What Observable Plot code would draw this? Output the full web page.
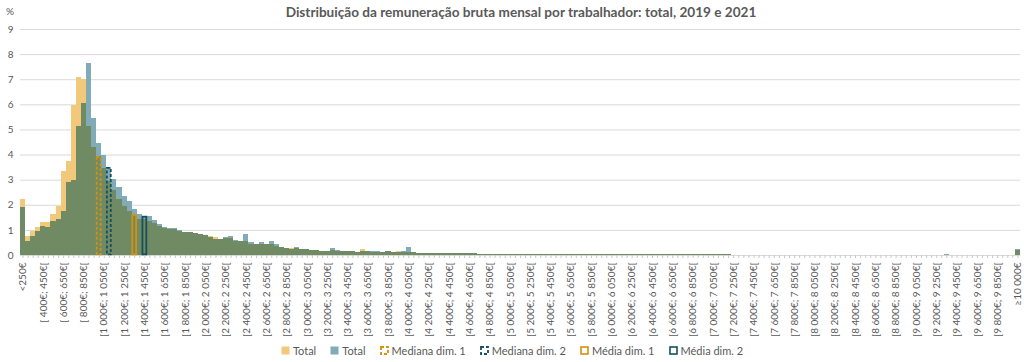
<!DOCTYPE html>
<html><head><meta charset="utf-8">
<script src="https://cdn.jsdelivr.net/npm/d3@7"></script>
<script src="https://cdn.jsdelivr.net/npm/@observablehq/plot@0.6"></script>
<style>
body{margin:0;background:#fff;font-family:Lato,"Open Sans",sans-serif;}
#wrap{position:relative;width:1024px;height:362px;overflow:hidden}
#title{height:24px;line-height:24px;text-align:center;font-weight:bold;font-size:13.6px;color:#595959;padding-left:18px}
#pct{position:absolute;left:6px;top:5px;font-size:10px;color:#595959}
#chart svg{display:block}
#legend{display:flex;justify-content:center;gap:14px;font-size:11px;color:#595959;height:24px;align-items:center}
.item{display:flex;align-items:center;gap:3px}
</style></head>
<body>
<div id="wrap">
  <div id="title">Distribuição da remuneração bruta mensal por trabalhador: total, 2019 e 2021</div>
  <div id="pct">%</div>
  <div id="chart"></div>
  <div id="legend"></div>
</div>
<script>
// Bin edges (€): first bin "<250€", then 50€ bins up to 10 000€, last bin "≥10 000€"
const binStart = 250, binStep = 50, binEnd = 10000;

// % of workers per bin, 2019 (Total, dim. 1)
const total2019 = [
2.24,0.74,0.94,1.13,1.31,1.31,1.63,1.96,3.34,3.75,
5.97,7.09,6.99,5.14,4.32,3.93,3.47,2.95,2.57,2.25,
1.95,1.77,1.61,1.44,1.42,1.35,1.26,1.15,1.06,1.02,
1.02,0.95,0.91,0.90,0.87,0.83,0.79,0.76,0.71,0.65,
0.68,0.68,0.57,0.56,0.55,0.44,0.43,0.44,0.43,0.43,
0.37,0.32,0.28,0.29,0.27,0.25,0.24,0.21,0.19,0.17,
0.17,0.19,0.17,0.16,0.15,0.14,0.13,0.25,0.16,0.13,
0.13,0.11,0.17,0.11,0.17,0.11,0.11,0.10,0.09,0.09,
0.09,0.08,0.08,0.08,0.07,0.07,0.07,0.07,0.07,0.07,
0.05,0.05,0.05,0.05,0.05,0.05,0.05,0.05,0.05,0.03,
0.03,0.03,0.03,0.03,0.03,0.03,0.03,0.03,0.03,0.03,
0.03,0.03,0.03,0.03,0.03,0.03,0.03,0.03,0.03,0.03,
0.03,0.02,0.02,0.02,0.02,0.02,0.02,0.02,0.02,0.02,
0.02,0.02,0.02,0.02,0.02,0.02,0.02,0.02,0.02,0.02,
0.01,0.01,0.01,0.01,0.01,0.01,0.01,0.01,0.01,0.01,
0.01,0.01,0.01,0.01,0.01,0.01,0.01,0.01,0.01,0.01,
0.01,0.01,0.01,0.01,0.01,0.01,0.01,0.01,0.01,0.01,
0.01,0.01,0.01,0.01,0.01,0.01,0.01,0.01,0.01,0.01,
0,0,0,0,0,0,0,0,0,0,
0,0,0,0,0,0,0.20
];

// % of workers per bin, 2021 (Total, dim. 2)
const total2021 = [
1.92,0.57,0.74,0.94,1.15,1.13,1.34,1.42,1.77,2.91,
2.99,5.14,6.04,7.63,5.44,4.46,4.00,3.49,3.01,2.70,
2.34,2.14,1.85,1.65,1.55,1.55,1.38,1.22,1.12,1.06,
1.09,0.99,0.93,0.92,0.89,0.85,0.78,0.72,0.65,0.65,
0.72,0.77,0.61,0.56,0.84,0.53,0.45,0.53,0.43,0.57,
0.43,0.33,0.29,0.25,0.32,0.25,0.23,0.21,0.19,0.17,
0.17,0.29,0.21,0.16,0.16,0.14,0.12,0.17,0.15,0.17,
0.15,0.12,0.16,0.12,0.13,0.14,0.30,0.10,0.09,0.09,
0.09,0.08,0.08,0.08,0.07,0.07,0.07,0.07,0.07,0.07,
0.05,0.05,0.05,0.05,0.05,0.05,0.05,0.05,0.05,0.04,
0.03,0.03,0.03,0.03,0.03,0.03,0.03,0.03,0.03,0.03,
0.03,0.03,0.03,0.03,0.03,0.03,0.03,0.03,0.03,0.03,
0.03,0.02,0.02,0.02,0.02,0.02,0.02,0.02,0.02,0.02,
0.02,0.02,0.02,0.02,0.02,0.02,0.02,0.02,0.02,0.02,
0.01,0.01,0.01,0.01,0.01,0.01,0.01,0.01,0.01,0.01,
0.01,0.01,0.01,0.01,0.01,0.01,0.01,0.01,0.01,0.01,
0.01,0.01,0.01,0.01,0.01,0.01,0.01,0.01,0.01,0.01,
0.01,0.01,0.01,0.01,0.01,0.01,0.01,0.01,0.01,0.01,
0,0,0.05,0,0,0,0,0,0,0,
0,0,0,0,0,0,0.22
];

// Median / mean markers: bin lower edge (€) and height (%)
const markerNames  = ["Mediana dim. 1","Mediana dim. 2","Média dim. 1","Média dim. 2"];
const markerLower  = [950, 1050, 1300, 1400];
const markerValues = [3.93, 3.49, 1.61, 1.55];

const yTicks = [0,1,2,3,4,5,6,7,8,9];

// ---- category labels
const fmt = n => n >= 1000 ? Math.floor(n/1000) + " " + String(n%1000).padStart(3,"0") : String(n);
const cats = ["<250€"];
for (let lo = binStart; lo < binEnd; lo += binStep) {
  const a = lo < 1000 ? " " + lo : fmt(lo);
  cats.push("[" + a + "€; " + fmt(lo + binStep) + "€[");
}
cats.push("≥10 000€");
const labelCats = cats.filter((c, i) => i % 4 === 0);

const d19 = cats.map((c, i) => ({cat: c, v: total2019[i]}));
const d21 = cats.map((c, i) => ({cat: c, v: total2021[i]}));
const dOv = cats.map((c, i) => ({cat: c, v: Math.min(total2019[i], total2021[i])}));
const catOf = lo => cats[(lo - binStart) / binStep + 1];
const markers = markerNames.map((n, i) => ({name: n, cat: catOf(markerLower[i]), v: markerValues[i]}));

const C = {y: "#F2C87A", t: "#80ABB7", ov: "#708B63", or: "#D4900F", dt: "#15505E"};

const chart = Plot.plot({
  width: 1024, height: 314,
  marginTop: 5, marginBottom: 83, marginLeft: 20, marginRight: 4,
  style: {fontFamily: "Lato, 'Open Sans', sans-serif", color: "#595959", background: "#fff"},
  x: {domain: cats, padding: 0, round: false},
  y: {domain: [0, 9]},
  marks: [
    Plot.ruleY(yTicks, {stroke: "#D9D9D9", strokeWidth: 1}),
    Plot.barY(d19, {x: "cat", y: "v", fill: C.y, shapeRendering: "crispEdges"}),
    Plot.barY(d21, {x: "cat", y: "v", fill: C.t, shapeRendering: "crispEdges"}),
    Plot.barY(dOv, {x: "cat", y: "v", fill: C.ov, shapeRendering: "crispEdges"}),
    Plot.barY(markers.filter(d => d.name === "Mediana dim. 1"), {x: "cat", y: "v", fill: "none", stroke: C.or, strokeWidth: 1.8, strokeDasharray: "3,2", inset: 0.6}),
    Plot.barY(markers.filter(d => d.name === "Mediana dim. 2"), {x: "cat", y: "v", fill: "none", stroke: C.dt, strokeWidth: 1.8, strokeDasharray: "3,2", inset: 0.6}),
    Plot.barY(markers.filter(d => d.name === "Média dim. 1"), {x: "cat", y: "v", fill: "none", stroke: C.or, strokeWidth: 1.8, inset: 0.6}),
    Plot.barY(markers.filter(d => d.name === "Média dim. 2"), {x: "cat", y: "v", fill: "none", stroke: C.dt, strokeWidth: 1.8, inset: 0.6}),
    Plot.axisY({ticks: yTicks, tickSize: 0, tickPadding: 7, fontSize: 10, fill: "#595959", label: null}),
    Plot.axisX({ticks: cats, tickSize: 3, tickFormat: () => "", stroke: "#C8C8C8", label: null}),
    Plot.axisX({ticks: labelCats, tickSize: 0, tickPadding: 7, tickRotate: -90, fontSize: 10, fill: "#595959", label: null})
  ]
});
document.getElementById("chart").appendChild(chart);

// ---- legend
const sw = (kind) => {
  const s = {
    y: `<rect x="0.5" y="0.5" width="8" height="8" fill="${C.y}"/>`,
    t: `<rect x="0.5" y="0.5" width="8" height="8" fill="${C.t}"/>`,
    md1: `<rect x="1" y="1" width="7" height="7" fill="none" stroke="${C.or}" stroke-width="1.8" stroke-dasharray="3,2"/>`,
    md2: `<rect x="1" y="1" width="7" height="7" fill="none" stroke="${C.dt}" stroke-width="1.8" stroke-dasharray="3,2"/>`,
    m1: `<rect x="1" y="1" width="7" height="7" fill="none" stroke="${C.or}" stroke-width="1.6"/>`,
    m2: `<rect x="1" y="1" width="7" height="7" fill="none" stroke="${C.dt}" stroke-width="1.6"/>`
  }[kind];
  return `<svg width="9" height="9">${s}</svg>`;
};
const legendItems = [["y","Total"],["t","Total"],["md1",markerNames[0]],["md2",markerNames[1]],["m1",markerNames[2]],["m2",markerNames[3]]];
document.getElementById("legend").innerHTML = legendItems.map(([k, t]) => `<span class="item">${sw(k)}<span>${t}</span></span>`).join("");
</script>
</body></html>
